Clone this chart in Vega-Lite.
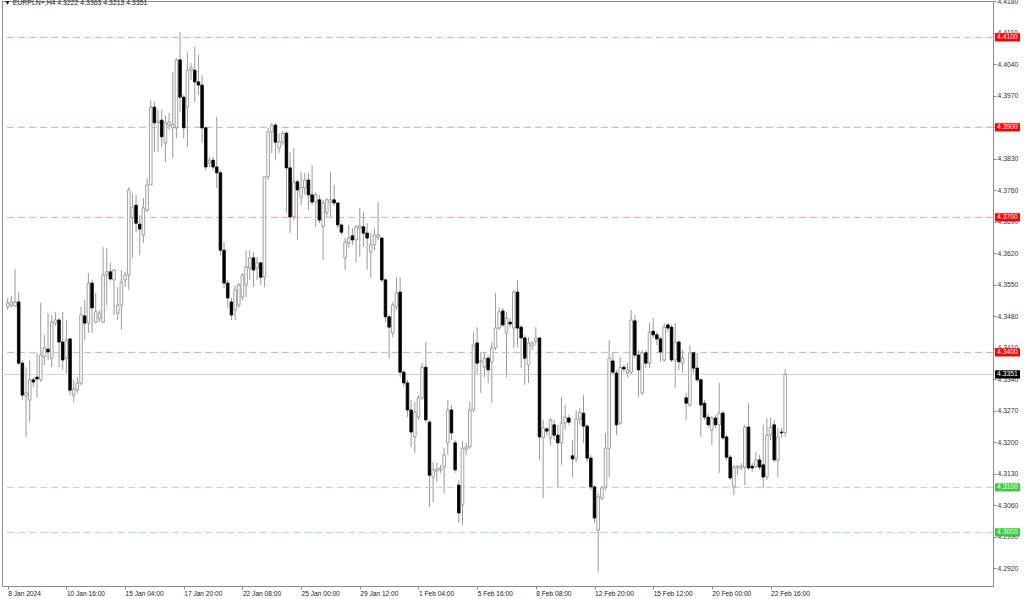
{
  "$schema": "https://vega.github.io/schema/vega-lite/v6.json",
  "width": 991,
  "height": 585,
  "autosize": {"type": "none"},
  "padding": {"left": 2, "top": 1, "right": 31, "bottom": 13},
  "background": "white",
  "config": {
    "view": {"stroke": "#8c8c8c", "strokeWidth": 1},
    "font": "Liberation Sans",
    "axis": {"labelOverlap": false, "labelFlush": false},
    "title": {"font": "Liberation Sans", "fontSize": 6.9, "fontWeight": "normal", "color": "#222222"}
  },
  "title": {
    "text": "▼  EURPLN+,H4  4.3222 4.3363 4.3213 4.3351",
    "anchor": "start",
    "frame": "group",
    "offset": 0,
    "dx": 2,
    "dy": 9
  },
  "datasets": {
    "levels": [
      {"p": 4.41, "kind": "red", "label": "4.4100"},
      {"p": 4.39, "kind": "red", "label": "4.3900"},
      {"p": 4.37, "kind": "red", "label": "4.3700"},
      {"p": 4.34, "kind": "red", "label": "4.3400"},
      {"p": 4.31, "kind": "green1", "label": "4.3100"},
      {"p": 4.30, "kind": "green2", "label": "4.3000"}
    ],
    "last": [
      {"p": 4.3351, "kind": "last", "label": "4.3351"}
    ],
    "candles": [
      {"i":0,"o":4.3501,"h":4.3521,"l":4.3494,"c":4.3510},
      {"i":1,"o":4.3505,"h":4.3525,"l":4.3499,"c":4.3512},
      {"i":2,"o":4.3503,"h":4.3585,"l":4.3501,"c":4.3512},
      {"i":3,"o":4.3512,"h":4.3534,"l":4.3372,"c":4.3376},
      {"i":4,"o":4.3376,"h":4.3383,"l":4.3294,"c":4.3305},
      {"i":5,"o":4.3303,"h":4.3367,"l":4.3212,"c":4.3310},
      {"i":6,"o":4.3294,"h":4.3383,"l":4.3245,"c":4.3339},
      {"i":7,"o":4.3339,"h":4.3345,"l":4.3323,"c":4.3334},
      {"i":8,"o":4.3345,"h":4.3399,"l":4.3299,"c":4.3341},
      {"i":9,"o":4.3339,"h":4.3510,"l":4.3334,"c":4.3394},
      {"i":10,"o":4.3390,"h":4.3439,"l":4.3372,"c":4.3410},
      {"i":11,"o":4.3407,"h":4.3487,"l":4.3383,"c":4.3401},
      {"i":12,"o":4.3387,"h":4.3483,"l":4.3367,"c":4.3467},
      {"i":13,"o":4.3465,"h":4.3490,"l":4.3459,"c":4.3472},
      {"i":14,"o":4.3472,"h":4.3476,"l":4.3367,"c":4.3423},
      {"i":15,"o":4.3423,"h":4.3490,"l":4.3361,"c":4.3383},
      {"i":16,"o":4.3387,"h":4.3472,"l":4.3354,"c":4.3427},
      {"i":17,"o":4.3430,"h":4.3430,"l":4.3305,"c":4.3316},
      {"i":18,"o":4.3305,"h":4.3339,"l":4.3290,"c":4.3319},
      {"i":19,"o":4.3316,"h":4.3345,"l":4.3310,"c":4.3332},
      {"i":20,"o":4.3332,"h":4.3501,"l":4.3327,"c":4.3483},
      {"i":21,"o":4.3481,"h":4.3516,"l":4.3427,"c":4.3465},
      {"i":22,"o":4.3465,"h":4.3576,"l":4.3443,"c":4.3554},
      {"i":23,"o":4.3554,"h":4.3561,"l":4.3443,"c":4.3499},
      {"i":24,"o":4.3467,"h":4.3532,"l":4.3465,"c":4.3490},
      {"i":25,"o":4.3476,"h":4.3494,"l":4.3467,"c":4.3487},
      {"i":26,"o":4.3467,"h":4.3634,"l":4.3467,"c":4.3572},
      {"i":27,"o":4.3572,"h":4.3632,"l":4.3505,"c":4.3579},
      {"i":28,"o":4.3579,"h":4.3599,"l":4.3559,"c":4.3563},
      {"i":29,"o":4.3561,"h":4.3585,"l":4.3483,"c":4.3583},
      {"i":30,"o":4.3487,"h":4.3545,"l":4.3472,"c":4.3505},
      {"i":31,"o":4.3505,"h":4.3583,"l":4.3450,"c":4.3556},
      {"i":32,"o":4.3561,"h":4.3579,"l":4.3545,"c":4.3572},
      {"i":33,"o":4.3572,"h":4.3767,"l":4.3539,"c":4.3761},
      {"i":34,"o":4.3699,"h":4.3754,"l":4.3610,"c":4.3723},
      {"i":35,"o":4.3727,"h":4.3750,"l":4.3667,"c":4.3687},
      {"i":36,"o":4.3685,"h":4.3705,"l":4.3616,"c":4.3674},
      {"i":37,"o":4.3661,"h":4.3743,"l":4.3643,"c":4.3721},
      {"i":38,"o":4.3716,"h":4.3787,"l":4.3712,"c":4.3772},
      {"i":39,"o":4.3772,"h":4.3961,"l":4.3772,"c":4.3945},
      {"i":40,"o":4.3945,"h":4.3956,"l":4.3845,"c":4.3910},
      {"i":41,"o":4.3910,"h":4.3939,"l":4.3845,"c":4.3914},
      {"i":42,"o":4.3916,"h":4.3939,"l":4.3856,"c":4.3879},
      {"i":43,"o":4.3865,"h":4.3927,"l":4.3823,"c":4.3910},
      {"i":44,"o":4.3905,"h":4.3932,"l":4.3894,"c":4.3912},
      {"i":45,"o":4.3899,"h":4.4023,"l":4.3832,"c":4.3907},
      {"i":46,"o":4.3899,"h":4.4054,"l":4.3876,"c":4.4050},
      {"i":47,"o":4.4050,"h":4.4112,"l":4.3934,"c":4.3967},
      {"i":48,"o":4.3967,"h":4.3972,"l":4.3876,"c":4.3899},
      {"i":49,"o":4.3945,"h":4.4067,"l":4.3856,"c":4.4027},
      {"i":50,"o":4.4027,"h":4.4043,"l":4.4005,"c":4.4032},
      {"i":51,"o":4.4027,"h":4.4079,"l":4.3956,"c":4.4001},
      {"i":52,"o":4.4001,"h":4.4061,"l":4.3972,"c":4.3994},
      {"i":53,"o":4.3994,"h":4.4016,"l":4.3865,"c":4.3899},
      {"i":54,"o":4.3899,"h":4.3899,"l":4.3805,"c":4.3812},
      {"i":55,"o":4.3821,"h":4.3834,"l":4.3812,"c":4.3827},
      {"i":56,"o":4.3827,"h":4.3834,"l":4.3805,"c":4.3812},
      {"i":57,"o":4.3812,"h":4.3923,"l":4.3765,"c":4.3799},
      {"i":58,"o":4.3799,"h":4.3805,"l":4.3616,"c":4.3627},
      {"i":59,"o":4.3627,"h":4.3645,"l":4.3543,"c":4.3554},
      {"i":60,"o":4.3554,"h":4.3561,"l":4.3499,"c":4.3521},
      {"i":61,"o":4.3512,"h":4.3521,"l":4.3472,"c":4.3483},
      {"i":62,"o":4.3494,"h":4.3550,"l":4.3472,"c":4.3539},
      {"i":63,"o":4.3505,"h":4.3554,"l":4.3499,"c":4.3550},
      {"i":64,"o":4.3523,"h":4.3576,"l":4.3516,"c":4.3572},
      {"i":65,"o":4.3550,"h":4.3627,"l":4.3523,"c":4.3590},
      {"i":66,"o":4.3587,"h":4.3627,"l":4.3561,"c":4.3610},
      {"i":67,"o":4.3610,"h":4.3623,"l":4.3545,"c":4.3583},
      {"i":68,"o":4.3587,"h":4.3612,"l":4.3561,"c":4.3599},
      {"i":69,"o":4.3599,"h":4.3601,"l":4.3550,"c":4.3567},
      {"i":70,"o":4.3567,"h":4.3790,"l":4.3545,"c":4.3790},
      {"i":71,"o":4.3790,"h":4.3899,"l":4.3783,"c":4.3890},
      {"i":72,"o":4.3890,"h":4.3910,"l":4.3843,"c":4.3905},
      {"i":73,"o":4.3905,"h":4.3910,"l":4.3827,"c":4.3867},
      {"i":74,"o":4.3854,"h":4.3887,"l":4.3843,"c":4.3867},
      {"i":75,"o":4.3867,"h":4.3892,"l":4.3861,"c":4.3887},
      {"i":76,"o":4.3887,"h":4.3892,"l":4.3710,"c":4.3810},
      {"i":77,"o":4.3810,"h":4.3845,"l":4.3665,"c":4.3701},
      {"i":78,"o":4.3701,"h":4.3854,"l":4.3694,"c":4.3779},
      {"i":79,"o":4.3779,"h":4.3783,"l":4.3650,"c":4.3761},
      {"i":80,"o":4.3745,"h":4.3801,"l":4.3727,"c":4.3767},
      {"i":81,"o":4.3765,"h":4.3799,"l":4.3750,"c":4.3783},
      {"i":82,"o":4.3783,"h":4.3799,"l":4.3716,"c":4.3750},
      {"i":83,"o":4.3750,"h":4.3816,"l":4.3727,"c":4.3734},
      {"i":84,"o":4.3734,"h":4.3756,"l":4.3679,"c":4.3750},
      {"i":85,"o":4.3739,"h":4.3750,"l":4.3687,"c":4.3694},
      {"i":86,"o":4.3679,"h":4.3739,"l":4.3605,"c":4.3732},
      {"i":87,"o":4.3710,"h":4.3743,"l":4.3699,"c":4.3739},
      {"i":88,"o":4.3734,"h":4.3801,"l":4.3701,"c":4.3739},
      {"i":89,"o":4.3739,"h":4.3772,"l":4.3725,"c":4.3732},
      {"i":90,"o":4.3732,"h":4.3732,"l":4.3676,"c":4.3683},
      {"i":91,"o":4.3683,"h":4.3687,"l":4.3661,"c":4.3667},
      {"i":92,"o":4.3610,"h":4.3654,"l":4.3583,"c":4.3645},
      {"i":93,"o":4.3643,"h":4.3683,"l":4.3632,"c":4.3654},
      {"i":94,"o":4.3659,"h":4.3676,"l":4.3639,"c":4.3650},
      {"i":95,"o":4.3650,"h":4.3683,"l":4.3601,"c":4.3679},
      {"i":96,"o":4.3676,"h":4.3721,"l":4.3612,"c":4.3681},
      {"i":97,"o":4.3679,"h":4.3712,"l":4.3634,"c":4.3665},
      {"i":98,"o":4.3665,"h":4.3687,"l":4.3583,"c":4.3654},
      {"i":99,"o":4.3623,"h":4.3665,"l":4.3565,"c":4.3639},
      {"i":100,"o":4.3639,"h":4.3676,"l":4.3627,"c":4.3661},
      {"i":101,"o":4.3656,"h":4.3734,"l":4.3650,"c":4.3661},
      {"i":102,"o":4.3654,"h":4.3656,"l":4.3556,"c":4.3561},
      {"i":103,"o":4.3561,"h":4.3565,"l":4.3467,"c":4.3479},
      {"i":104,"o":4.3479,"h":4.3483,"l":4.3387,"c":4.3456},
      {"i":105,"o":4.3443,"h":4.3512,"l":4.3434,"c":4.3505},
      {"i":106,"o":4.3501,"h":4.3567,"l":4.3494,"c":4.3532},
      {"i":107,"o":4.3534,"h":4.3567,"l":4.3345,"c":4.3356},
      {"i":108,"o":4.3356,"h":4.3361,"l":4.3323,"c":4.3332},
      {"i":109,"o":4.3332,"h":4.3339,"l":4.3256,"c":4.3272},
      {"i":110,"o":4.3272,"h":4.3294,"l":4.3190,"c":4.3223},
      {"i":111,"o":4.3212,"h":4.3290,"l":4.3176,"c":4.3267},
      {"i":112,"o":4.3256,"h":4.3305,"l":4.3250,"c":4.3299},
      {"i":113,"o":4.3299,"h":4.3376,"l":4.3294,"c":4.3367},
      {"i":114,"o":4.3367,"h":4.3423,"l":4.3245,"c":4.3250},
      {"i":115,"o":4.3245,"h":4.3250,"l":4.3056,"c":4.3127},
      {"i":116,"o":4.3123,"h":4.3156,"l":4.3067,"c":4.3139},
      {"i":117,"o":4.3136,"h":4.3156,"l":4.3112,"c":4.3141},
      {"i":118,"o":4.3139,"h":4.3150,"l":4.3132,"c":4.3143},
      {"i":119,"o":4.3145,"h":4.3187,"l":4.3087,"c":4.3172},
      {"i":120,"o":4.3199,"h":4.3294,"l":4.3172,"c":4.3272},
      {"i":121,"o":4.3272,"h":4.3283,"l":4.3205,"c":4.3221},
      {"i":122,"o":4.3199,"h":4.3205,"l":4.3132,"c":4.3139},
      {"i":123,"o":4.3105,"h":4.3116,"l":4.3021,"c":4.3043},
      {"i":124,"o":4.3061,"h":4.3203,"l":4.3016,"c":4.3187},
      {"i":125,"o":4.3185,"h":4.3199,"l":4.3172,"c":4.3190},
      {"i":126,"o":4.3190,"h":4.3290,"l":4.3185,"c":4.3272},
      {"i":127,"o":4.3272,"h":4.3445,"l":4.3267,"c":4.3416},
      {"i":128,"o":4.3421,"h":4.3456,"l":4.3350,"c":4.3376},
      {"i":129,"o":4.3379,"h":4.3399,"l":4.3310,"c":4.3381},
      {"i":130,"o":4.3367,"h":4.3399,"l":4.3345,"c":4.3387},
      {"i":131,"o":4.3387,"h":4.3394,"l":4.3332,"c":4.3361},
      {"i":132,"o":4.3379,"h":4.3423,"l":4.3287,"c":4.3410},
      {"i":133,"o":4.3410,"h":4.3532,"l":4.3405,"c":4.3454},
      {"i":134,"o":4.3454,"h":4.3499,"l":4.3450,"c":4.3490},
      {"i":135,"o":4.3492,"h":4.3499,"l":4.3456,"c":4.3461},
      {"i":136,"o":4.3443,"h":4.3490,"l":4.3345,"c":4.3476},
      {"i":137,"o":4.3467,"h":4.3476,"l":4.3456,"c":4.3463},
      {"i":138,"o":4.3454,"h":4.3539,"l":4.3410,"c":4.3534},
      {"i":139,"o":4.3534,"h":4.3561,"l":4.3412,"c":4.3454},
      {"i":140,"o":4.3456,"h":4.3461,"l":4.3365,"c":4.3432},
      {"i":141,"o":4.3432,"h":4.3439,"l":4.3327,"c":4.3387},
      {"i":142,"o":4.3372,"h":4.3434,"l":4.3332,"c":4.3421},
      {"i":143,"o":4.3414,"h":4.3425,"l":4.3405,"c":4.3421},
      {"i":144,"o":4.3425,"h":4.3456,"l":4.3416,"c":4.3432},
      {"i":145,"o":4.3432,"h":4.3434,"l":4.3161,"c":4.3212},
      {"i":146,"o":4.3210,"h":4.3250,"l":4.3076,"c":4.3232},
      {"i":147,"o":4.3230,"h":4.3234,"l":4.3216,"c":4.3225},
      {"i":148,"o":4.3210,"h":4.3254,"l":4.3194,"c":4.3250},
      {"i":149,"o":4.3239,"h":4.3250,"l":4.3205,"c":4.3216},
      {"i":150,"o":4.3216,"h":4.3239,"l":4.3099,"c":4.3199},
      {"i":151,"o":4.3199,"h":4.3301,"l":4.3150,"c":4.3243},
      {"i":152,"o":4.3243,"h":4.3283,"l":4.3227,"c":4.3256},
      {"i":153,"o":4.3254,"h":4.3261,"l":4.3239,"c":4.3245},
      {"i":154,"o":4.3170,"h":4.3205,"l":4.3123,"c":4.3163},
      {"i":155,"o":4.3163,"h":4.3272,"l":4.3156,"c":4.3252},
      {"i":156,"o":4.3252,"h":4.3276,"l":4.3239,"c":4.3267},
      {"i":157,"o":4.3265,"h":4.3305,"l":4.3199,"c":4.3236},
      {"i":158,"o":4.3236,"h":4.3241,"l":4.3156,"c":4.3165},
      {"i":159,"o":4.3165,"h":4.3172,"l":4.3094,"c":4.3101},
      {"i":160,"o":4.3101,"h":4.3105,"l":4.3021,"c":4.3032},
      {"i":161,"o":4.3005,"h":4.3087,"l":4.2912,"c":4.3079},
      {"i":162,"o":4.3076,"h":4.3103,"l":4.3072,"c":4.3099},
      {"i":163,"o":4.3101,"h":4.3221,"l":4.3094,"c":4.3187},
      {"i":164,"o":4.3187,"h":4.3427,"l":4.3123,"c":4.3387},
      {"i":165,"o":4.3381,"h":4.3399,"l":4.3350,"c":4.3356},
      {"i":166,"o":4.3354,"h":4.3361,"l":4.3216,"c":4.3239},
      {"i":167,"o":4.3243,"h":4.3390,"l":4.3239,"c":4.3367},
      {"i":168,"o":4.3367,"h":4.3372,"l":4.3356,"c":4.3363},
      {"i":169,"o":4.3354,"h":4.3376,"l":4.3345,"c":4.3361},
      {"i":170,"o":4.3356,"h":4.3494,"l":4.3350,"c":4.3472},
      {"i":171,"o":4.3470,"h":4.3483,"l":4.3387,"c":4.3394},
      {"i":172,"o":4.3394,"h":4.3405,"l":4.3301,"c":4.3361},
      {"i":173,"o":4.3310,"h":4.3405,"l":4.3305,"c":4.3399},
      {"i":174,"o":4.3399,"h":4.3405,"l":4.3365,"c":4.3376},
      {"i":175,"o":4.3376,"h":4.3465,"l":4.3365,"c":4.3445},
      {"i":176,"o":4.3447,"h":4.3476,"l":4.3432,"c":4.3439},
      {"i":177,"o":4.3439,"h":4.3445,"l":4.3416,"c":4.3430},
      {"i":178,"o":4.3430,"h":4.3434,"l":4.3379,"c":4.3401},
      {"i":179,"o":4.3383,"h":4.3465,"l":4.3379,"c":4.3456},
      {"i":180,"o":4.3461,"h":4.3465,"l":4.3445,"c":4.3454},
      {"i":181,"o":4.3456,"h":4.3461,"l":4.3379,"c":4.3383},
      {"i":182,"o":4.3383,"h":4.3465,"l":4.3321,"c":4.3423},
      {"i":183,"o":4.3423,"h":4.3427,"l":4.3361,"c":4.3379},
      {"i":184,"o":4.3376,"h":4.3405,"l":4.3354,"c":4.3387},
      {"i":185,"o":4.3299,"h":4.3310,"l":4.3250,"c":4.3287},
      {"i":186,"o":4.3283,"h":4.3416,"l":4.3279,"c":4.3399},
      {"i":187,"o":4.3399,"h":4.3401,"l":4.3354,"c":4.3365},
      {"i":188,"o":4.3365,"h":4.3399,"l":4.3334,"c":4.3339},
      {"i":189,"o":4.3339,"h":4.3343,"l":4.3212,"c":4.3283},
      {"i":190,"o":4.3287,"h":4.3294,"l":4.3250,"c":4.3256},
      {"i":191,"o":4.3256,"h":4.3265,"l":4.3232,"c":4.3239},
      {"i":192,"o":4.3227,"h":4.3259,"l":4.3194,"c":4.3254},
      {"i":193,"o":4.3254,"h":4.3261,"l":4.3232,"c":4.3239},
      {"i":194,"o":4.3239,"h":4.3332,"l":4.3132,"c":4.3265},
      {"i":195,"o":4.3265,"h":4.3270,"l":4.3205,"c":4.3210},
      {"i":196,"o":4.3212,"h":4.3216,"l":4.3161,"c":4.3167},
      {"i":197,"o":4.3167,"h":4.3172,"l":4.3116,"c":4.3121},
      {"i":198,"o":4.3101,"h":4.3150,"l":4.3083,"c":4.3145},
      {"i":199,"o":4.3143,"h":4.3150,"l":4.3127,"c":4.3147},
      {"i":200,"o":4.3143,"h":4.3154,"l":4.3139,"c":4.3147},
      {"i":201,"o":4.3145,"h":4.3239,"l":4.3105,"c":4.3234},
      {"i":202,"o":4.3234,"h":4.3287,"l":4.3139,"c":4.3143},
      {"i":203,"o":4.3147,"h":4.3154,"l":4.3134,"c":4.3143},
      {"i":204,"o":4.3147,"h":4.3179,"l":4.3143,"c":4.3161},
      {"i":205,"o":4.3161,"h":4.3172,"l":4.3139,"c":4.3145},
      {"i":206,"o":4.3150,"h":4.3239,"l":4.3099,"c":4.3123},
      {"i":207,"o":4.3123,"h":4.3254,"l":4.3116,"c":4.3216},
      {"i":208,"o":4.3216,"h":4.3254,"l":4.3205,"c":4.3234},
      {"i":209,"o":4.3239,"h":4.3250,"l":4.3156,"c":4.3161},
      {"i":210,"o":4.3161,"h":4.3232,"l":4.3123,"c":4.3212},
      {"i":211,"o":4.3223,"h":4.3232,"l":4.3210,"c":4.3221},
      {"i":212,"o":4.3222,"h":4.3363,"l":4.3213,"c":4.3351}
    ]
  },
  "layer": [
    {
      "data": {"name": "candles"},
      "mark": {"type": "rule", "stroke": "#9a9a9a", "strokeWidth": 1},
      "encoding": {
        "x": {
          "field": "i",
          "type": "quantitative",
          "scale": {"domain": [-0.19, 267.29], "nice": false, "zero": false},
          "axis": {
            "orient": "bottom",
            "title": null,
            "grid": false,
            "domain": false,
            "values": [0, 16, 32, 48, 64, 80, 96, 112, 128, 144, 160, 176, 192, 208],
            "tickCount": 40,
            "labelExpr": "['8 Jan 2024','10 Jan 16:00','15 Jan 04:00','17 Jan 20:00','22 Jan 08:00','25 Jan 00:00','29 Jan 12:00','1 Feb 04:00','5 Feb 16:00','8 Feb 08:00','12 Feb 20:00','15 Feb 12:00','20 Feb 00:00','22 Feb 16:00'][round(datum.value / 16)]",
            "labelAlign": "left",
            "labelFontSize": 6.6,
            "labelColor": "#222222",
            "labelPadding": 1,
            "labelFlush": false,
            "labelOverlap": false,
            "tickSize": 3,
            "tickColor": "#8c8c8c"
          }
        },
        "y": {
          "field": "l",
          "type": "quantitative",
          "scale": {"domain": [4.28808, 4.41808], "nice": false, "zero": false},
          "axis": {
            "orient": "right",
            "title": null,
            "grid": false,
            "values": [4.292, 4.299, 4.306, 4.313, 4.32, 4.327, 4.334, 4.341, 4.348, 4.355, 4.362, 4.369, 4.376, 4.383, 4.39, 4.397, 4.404, 4.411, 4.418],
            "tickCount": 40,
            "format": ".4f",
            "labelFontSize": 6.8,
            "labelColor": "#333333",
            "labelPadding": 1,
            "labelFlush": false,
            "labelOverlap": false,
            "tickSize": 3,
            "tickColor": "#8c8c8c",
            "domainColor": "#8c8c8c"
          }
        },
        "y2": {"field": "h"}
      }
    },
    {
      "data": {"name": "levels"},
      "mark": {"type": "rule", "strokeWidth": 1, "strokeDash": [7, 4]},
      "encoding": {
        "y": {"field": "p", "type": "quantitative"},
        "stroke": {
          "field": "kind",
          "type": "nominal",
          "scale": {"domain": ["red", "green1", "green2"], "range": ["#f4a0a0", "#b9d3b9", "#9fe49f"]},
          "legend": null
        }
      }
    },
    {
      "data": {"name": "last"},
      "mark": {"type": "rule", "stroke": "#d0d0d0", "strokeWidth": 1},
      "encoding": {
        "y": {"field": "p", "type": "quantitative"}
      }
    },
    {
      "data": {"name": "candles"},
      "mark": {"type": "bar", "width": 2.6, "strokeWidth": 0.8},
      "encoding": {
        "x": {"field": "i", "type": "quantitative"},
        "y": {"field": "o", "type": "quantitative"},
        "y2": {"field": "c"},
        "fill": {"condition": {"test": "datum.c >= datum.o", "value": "#ffffff"}, "value": "#000000"},
        "stroke": {"condition": {"test": "datum.c >= datum.o", "value": "#8a8a8a"}, "value": "#000000"}
      }
    },
    {
      "data": {"name": "levels"},
      "mark": {"type": "point", "filled": true, "opacity": 1, "shape": "M-1,-0.33L1,-0.33L1,0.33L-1,0.33Z", "size": 625, "xOffset": 14.5},
      "encoding": {
        "x": {"value": "width"},
        "y": {"field": "p", "type": "quantitative"},
        "fill": {
          "field": "kind",
          "type": "nominal",
          "scale": {"domain": ["red", "green1", "green2", "last"], "range": ["#ff0000", "#3ccc3c", "#33cc33", "#000000"]},
          "legend": null
        }
      }
    },
    {
      "data": {"name": "last"},
      "mark": {"type": "point", "filled": true, "opacity": 1, "shape": "M-1,-0.33L1,-0.33L1,0.33L-1,0.33Z", "size": 625, "xOffset": 14.5},
      "encoding": {
        "x": {"value": "width"},
        "y": {"field": "p", "type": "quantitative"},
        "fill": {"field": "kind", "type": "nominal", "legend": null}
      }
    },
    {
      "data": {"name": "levels"},
      "mark": {"type": "text", "fontSize": 6.8, "align": "center", "baseline": "middle", "xOffset": 14.5, "color": "#ffffff"},
      "encoding": {
        "x": {"value": "width"},
        "y": {"field": "p", "type": "quantitative"},
        "text": {"field": "label"}
      }
    },
    {
      "data": {"name": "last"},
      "mark": {"type": "text", "fontSize": 6.8, "align": "center", "baseline": "middle", "xOffset": 14.5, "color": "#ffffff"},
      "encoding": {
        "x": {"value": "width"},
        "y": {"field": "p", "type": "quantitative"},
        "text": {"field": "label"}
      }
    }
  ]
}
